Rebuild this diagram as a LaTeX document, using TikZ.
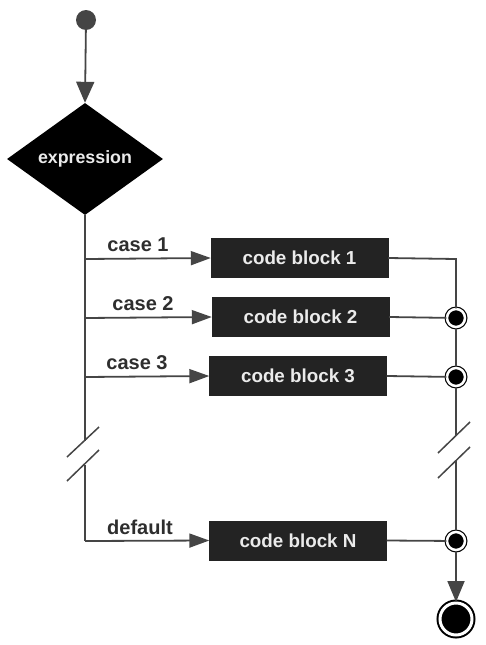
\documentclass[tikz,border=0pt]{standalone}
\usepackage{fontspec}
\setmainfont{Liberation Sans}
\usetikzlibrary{shapes.geometric,arrows.meta}
\definecolor{ln}{HTML}{454545}
\definecolor{bx}{HTML}{232323}
\definecolor{lbl}{HTML}{2E2E2E}
\begin{document}
\begin{tikzpicture}[x=1pt,y=-1pt,
  line/.style={draw=ln, line width=1.8pt},
  arr/.style={line, -{Triangle[length=20pt,width=14pt]}},
  codebox/.style={rectangle, fill=bx, draw=bx, minimum width=177pt, minimum height=39pt, inner sep=0pt,
    text=white!92!black, font=\fontsize{18.8}{22}\selectfont\bfseries},
  lab/.style={text=lbl, font=\fontsize{20}{24}\selectfont\bfseries, inner sep=0pt},
  junc/.style={circle, fill=black, draw=black, line width=1.2pt, double=white, double distance=2.5pt, minimum size=18pt, inner sep=0pt},
  finalnode/.style={circle, fill=black, draw=black, line width=2pt, double=white, double distance=3pt, minimum size=32pt, inner sep=0pt},
  startnode/.style={circle, fill=ln, minimum size=20pt, inner sep=0pt}
]
\useasboundingbox (0,0) rectangle (485,645);

\node[startnode] (start) at (86,20) {};
\node[diamond, fill=black, minimum width=156pt, minimum height=112pt, inner sep=0pt,
  text=white!92!black, font=\fontsize{17.8}{21}\selectfont\bfseries] (dec) at (85,159) {expression};
\draw[arr, -{Triangle[length=21pt,width=18pt]}] (start) -- (dec.north);

\node[codebox] (b1) at (299.5,258) {code block 1};
\node[codebox] (b2) at (300.5,317) {code block 2};
\node[codebox] (b3) at (298,376) {code block 3};
\node[codebox] (bN) at (298,540.5) {code block N};

\node[lab] (l1) at (138,245) {case 1};
\node[lab] (l2) at (143,304) {case 2};
\node[lab] (l3) at (137,363) {case 3};
\node[lab] (lN) at (140,527) {default};

\coordinate (t1) at (85,259);
\coordinate (t2) at (85,318);
\coordinate (t3) at (85,377);
\coordinate (tb1) at (85,441);
\coordinate (tb2) at (85,465);
\coordinate (tN) at (85,541);

\node[junc] (j2) at (456,318) {};
\node[junc] (j3) at (456,377) {};
\node[junc] (jN) at (456,541) {};
\node[finalnode] (end) at (456,619) {};
\coordinate (r1) at (456,259);
\coordinate (rb1) at (456,436);
\coordinate (rb2) at (456,460);

% trunk
\draw[line] (dec.south) -- (tb1);
\draw[line] (tb2) -- (tN);
\draw[arr] (t1) -- (b1.west);
\draw[arr] (t2) -- (b2.west);
\draw[arr] (t3) -- (b3.west);
\draw[arr] (tN) -- (bN.west);

% break marks
\draw[line, line width=1.5pt] (67,457) -- (99,427);
\draw[line, line width=1.5pt] (67,481) -- (99,450);
\draw[line, line width=1.5pt] (438,453) -- (470,422);
\draw[line, line width=1.5pt] (438,478) -- (470,447);

% right side
\draw[line] (b1.east) -- (r1) -- (j2);
\draw[line] (b2.east) -- (j2);
\draw[line] (j2) -- (j3);
\draw[line] (b3.east) -- (j3);
\draw[line] (j3) -- (rb1);
\draw[line] (rb2) -- (jN);
\draw[line] (bN.east) -- (jN);
\draw[arr, -{Triangle[length=21pt,width=17pt]}] (jN) -- (end);
\end{tikzpicture}
\end{document}
